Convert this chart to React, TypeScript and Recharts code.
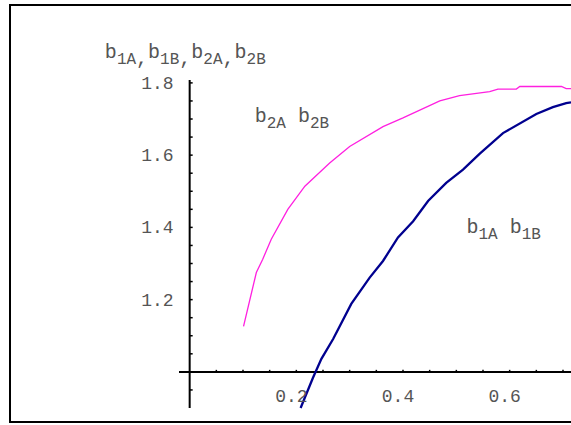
import { LineChart, Line, XAxis, YAxis, ReferenceLine, ReferenceDot } from "recharts";

// b1A, b1B (navy) and b2A, b2B (magenta)
const b1X = [0.208, 0.231, 0.247, 0.269, 0.303, 0.3375, 0.3625, 0.3906, 0.419, 0.447, 0.481, 0.5125, 0.544, 0.5875, 0.65, 0.681, 0.706, 0.715];
const b1Y = [0.9, 0.983, 1.036, 1.091, 1.188, 1.261, 1.307, 1.372, 1.417, 1.473, 1.523, 1.56, 1.604, 1.661, 1.714, 1.733, 1.744, 1.746];

const b2X = [0.101, 0.125, 0.137, 0.153, 0.184, 0.216, 0.2625, 0.3, 0.3625, 0.4, 0.469, 0.506, 0.5625, 0.578, 0.6125, 0.619, 0.697, 0.706, 0.715];
const b2Y = [1.126, 1.275, 1.312, 1.367, 1.45, 1.514, 1.578, 1.624, 1.679, 1.703, 1.75, 1.765, 1.776, 1.783, 1.783, 1.79, 1.79, 1.784, 1.784];

const xTicks = [0.05, 0.1, 0.15, 0.2, 0.25, 0.3, 0.35, 0.4, 0.45, 0.5, 0.55, 0.6, 0.65, 0.7];
const xLabels = [0.2, 0.4, 0.6];
const yTicks = [0.95, 1.05, 1.1, 1.15, 1.2, 1.25, 1.3, 1.35, 1.4, 1.45, 1.5, 1.55, 1.6, 1.65, 1.7, 1.75, 1.8];
const yLabels = [1.2, 1.4, 1.6, 1.8];

const b1Data = b1X.map((x, i) => ({ x, y: b1Y[i] }));
const b2Data = b2X.map((x, i) => ({ x, y: b2Y[i] }));

const W = 571;
const H = 425;
// axis boxes are 1px, the rest of the offset is margin
const margin = { top: 80, right: 0, bottom: 16, left: 178 };
const xDomain = [-0.02, 0.715];
const yDomain = [0.903, 1.808];
const origin = { x: 0, y: 1.0 };

const plotLeft = margin.left + 1;
const plotW = W - plotLeft - margin.right;
const plotH = H - margin.top - margin.bottom - 1;
// pixel position of the axes crossing (Mathematica style axes through the origin)
const axisX = plotLeft + ((origin.x - xDomain[0]) / (xDomain[1] - xDomain[0])) * plotW;
const axisY = margin.top + ((yDomain[1] - origin.y) / (yDomain[1] - yDomain[0])) * plotH;

const FONT = "'Liberation Mono', 'Courier New', monospace";
const TEXT = "#555";

function XTick(props: any) {
  const { x, payload } = props;
  const v = payload.value;
  return (
    <g>
      <line x1={x} x2={x} y1={axisY} y2={axisY - 3} stroke="#000" strokeWidth={1.5} />
      {xLabels.includes(v) && (
        <text x={x - 5} y={axisY + 29} textAnchor="middle" fontFamily={FONT} fontSize={18} fill={TEXT}>
          {v.toFixed(1)}
        </text>
      )}
    </g>
  );
}

function YTick(props: any) {
  const { y, payload } = props;
  const v = payload.value;
  return (
    <g>
      <line x1={axisX} x2={axisX + 3} y1={y} y2={y} stroke="#000" strokeWidth={1.5} />
      {yLabels.includes(v) && (
        <text x={axisX - 16} y={y + 6} textAnchor="end" fontFamily={FONT} fontSize={18} fill={TEXT}>
          {v.toFixed(1)}
        </text>
      )}
    </g>
  );
}

// "b" with a subscript, e.g. b_{1A}
function subLabel(names: string[], sep: string, size: number, subSize: number) {
  const out: any[] = [];
  names.forEach((n, i) => {
    out.push(<tspan key={"b" + i} fontSize={size} dy={i === 0 ? 0 : -6}>{"b"}</tspan>);
    out.push(<tspan key={"s" + i} fontSize={subSize} dy={6}>{n}</tspan>);
    if (i < names.length - 1) {
      out.push(<tspan key={"c" + i} fontSize={size} dy={0}>{sep}</tspan>);
    }
  });
  return out;
}

const textShape = (names: string[], sep: string) => (p: any) => (
  <text x={p.cx} y={p.cy} fontFamily={FONT} fill={TEXT}>
    {subLabel(names, sep, 20, 16)}
  </text>
);

export default function App() {
  return (
    <div style={{ position: "absolute", left: 0, top: 0, width: W, height: H, overflow: "hidden", background: "#fff" }}>
      <div
        style={{
          position: "absolute",
          left: 9,
          top: 4,
          width: 700,
          height: 419,
          border: "2px solid #000",
          boxSizing: "border-box",
        }}
      />
      <div style={{ position: "absolute", left: 0, top: 0 }}>
        <LineChart width={W} height={H} margin={margin}>
          <XAxis
            type="number"
            dataKey="x"
            domain={xDomain}
            ticks={xTicks}
            interval={0}
            height={1}
            axisLine={false}
            tickLine={false}
            tickSize={0}
            tick={XTick}
            allowDataOverflow
          />
          <YAxis
            type="number"
            dataKey="y"
            domain={yDomain}
            ticks={yTicks}
            interval={0}
            width={1}
            axisLine={false}
            tickLine={false}
            tickSize={0}
            tick={YTick}
          />
          <ReferenceLine y={origin.y} stroke="#000" strokeWidth={2} />
          <ReferenceLine x={origin.x} stroke="#000" strokeWidth={2} />
          <Line data={b2Data} dataKey="y" type="linear" stroke="#ff20e0" strokeWidth={1.3} dot={false} isAnimationActive={false} />
          <Line data={b1Data} dataKey="y" type="linear" stroke="#00008f" strokeWidth={2.3} dot={false} isAnimationActive={false} />
          <ReferenceDot x={0.122} y={1.692} r={0} shape={textShape(["2A", "2B"], " ")} />
          <ReferenceDot x={0.519} y={1.385} r={0} shape={textShape(["1A", "1B"], " ")} />
          <ReferenceDot x={-0.159} y={1.869} r={0} ifOverflow="visible" shape={textShape(["1A", "1B", "2A", "2B"], ",")} />
        </LineChart>
      </div>
    </div>
  );
}
